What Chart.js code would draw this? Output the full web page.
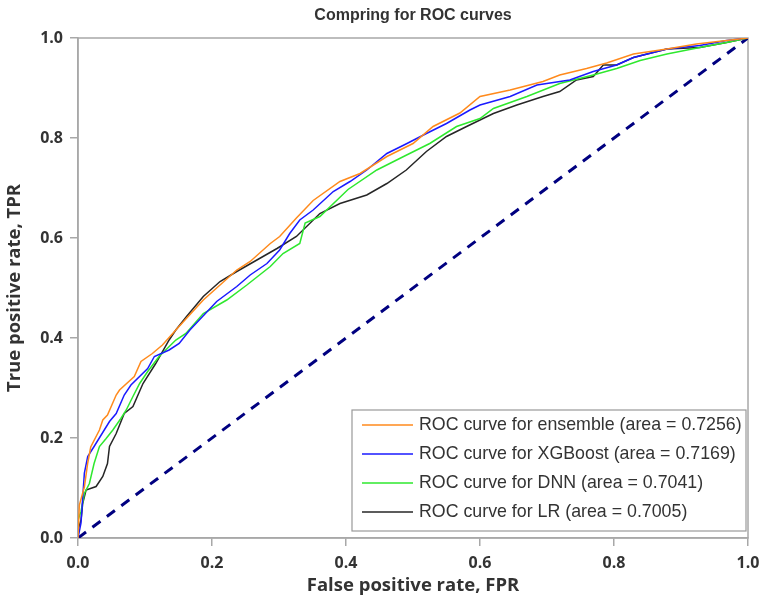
<!DOCTYPE html>
<html><head><meta charset="utf-8">
<script src="https://cdn.jsdelivr.net/npm/chart.js@4/dist/chart.umd.min.js"></script>
<style>html,body{margin:0;padding:0;background:#fff}#wrap{width:763px;height:600px}</style>
</head><body><div id="wrap"><canvas id="c" width="763" height="600"></canvas></div>
<script>
const chartTitle = 'Compring for ROC curves';
const xTitle = 'False positive rate, FPR';
const yTitle = 'True positive rate, TPR';
const seriesLabels = [
  'ROC curve for ensemble (area = 0.7256)',
  'ROC curve for XGBoost (area = 0.7169)',
  'ROC curve for DNN (area = 0.7041)',
  'ROC curve for LR (area = 0.7005)'
];
const ensembleFpr = [0, 0.002, 0.0095, 0.0145, 0.019, 0.032, 0.037, 0.044, 0.057, 0.062, 0.084, 0.094, 0.111, 0.126, 0.146, 0.187, 0.237, 0.257, 0.287, 0.301, 0.326, 0.351, 0.391, 0.421, 0.461, 0.500, 0.530, 0.570, 0.600, 0.645, 0.694, 0.719, 0.759, 0.789, 0.829, 0.879, 0.923, 0.968, 1];
const ensembleTpr = [0, 0.066, 0.102, 0.150, 0.182, 0.216, 0.236, 0.246, 0.286, 0.296, 0.323, 0.353, 0.369, 0.386, 0.416, 0.476, 0.536, 0.553, 0.589, 0.603, 0.640, 0.675, 0.713, 0.729, 0.763, 0.789, 0.823, 0.850, 0.883, 0.896, 0.913, 0.926, 0.939, 0.950, 0.968, 0.978, 0.988, 0.995, 1];
const xgbFpr = [0, 0.0045, 0.0095, 0.0145, 0.024, 0.047, 0.057, 0.069, 0.079, 0.104, 0.114, 0.136, 0.151, 0.167, 0.207, 0.237, 0.257, 0.282, 0.301, 0.316, 0.331, 0.351, 0.381, 0.406, 0.431, 0.461, 0.491, 0.520, 0.550, 0.585, 0.600, 0.645, 0.685, 0.734, 0.769, 0.804, 0.829, 0.879, 0.928, 0.968, 1];
const xgbTpr = [0, 0.030, 0.130, 0.163, 0.183, 0.233, 0.249, 0.286, 0.306, 0.339, 0.363, 0.376, 0.389, 0.416, 0.473, 0.503, 0.526, 0.549, 0.576, 0.609, 0.636, 0.656, 0.693, 0.713, 0.736, 0.769, 0.789, 0.809, 0.829, 0.856, 0.866, 0.883, 0.906, 0.916, 0.933, 0.946, 0.961, 0.978, 0.985, 0.995, 1];
const dnnFpr = [0, 0, 0.0045, 0.0095, 0.017, 0.024, 0.032, 0.042, 0.052, 0.064, 0.072, 0.082, 0.092, 0.104, 0.121, 0.146, 0.161, 0.187, 0.222, 0.252, 0.287, 0.306, 0.331, 0.339, 0.361, 0.403, 0.446, 0.486, 0.525, 0.565, 0.600, 0.620, 0.670, 0.719, 0.769, 0.804, 0.839, 0.879, 0.928, 0.968, 1];
const dnnTpr = [0, 0.036, 0.053, 0.089, 0.109, 0.149, 0.183, 0.199, 0.216, 0.239, 0.256, 0.283, 0.309, 0.333, 0.363, 0.396, 0.409, 0.449, 0.476, 0.506, 0.543, 0.569, 0.589, 0.630, 0.643, 0.697, 0.736, 0.763, 0.789, 0.823, 0.839, 0.859, 0.883, 0.909, 0.926, 0.939, 0.955, 0.968, 0.981, 0.991, 1];
const lrFpr = [0, 0, 0.0045, 0.007, 0.012, 0.027, 0.037, 0.044, 0.047, 0.057, 0.069, 0.082, 0.097, 0.116, 0.136, 0.146, 0.162, 0.187, 0.212, 0.237, 0.267, 0.297, 0.326, 0.361, 0.391, 0.431, 0.461, 0.490, 0.520, 0.550, 0.580, 0.600, 0.620, 0.655, 0.694, 0.719, 0.744, 0.769, 0.784, 0.804, 0.829, 0.879, 0.928, 0.968, 1];
const lrTpr = [0, 0.016, 0.036, 0.069, 0.096, 0.103, 0.123, 0.149, 0.183, 0.209, 0.249, 0.263, 0.309, 0.349, 0.396, 0.416, 0.443, 0.483, 0.513, 0.533, 0.556, 0.579, 0.603, 0.649, 0.669, 0.686, 0.709, 0.736, 0.773, 0.803, 0.823, 0.836, 0.849, 0.866, 0.883, 0.893, 0.916, 0.923, 0.946, 0.946, 0.961, 0.978, 0.981, 0.991, 1];
const chanceFpr = [0, 1];
const chanceTpr = [0, 1];
const tickValues = [0, 0.2, 0.4, 0.6, 0.8, 1.0];

const colors = ['#ff8a1c', '#1a1aff', '#2ee82e', '#262626'];
const pts = (xs, ys) => xs.map((x, i) => ({x: x, y: ys[i]}));

const legendBox = {
  id: 'legendBox',
  afterDraw(chart) {
    const ctx = chart.ctx, ca = chart.chartArea;
    const w = 394, h = 121;
    const left = ca.right - 2 - w, top = ca.bottom - 7 - h;
    ctx.save();
    ctx.fillStyle = '#fff';
    ctx.fillRect(left, top, w, h);
    ctx.strokeStyle = '#999';
    ctx.lineWidth = 1.2;
    ctx.strokeRect(left, top, w, h);
    ctx.font = '17.8px "Liberation Sans", Arial, sans-serif';
    ctx.textBaseline = 'middle';
    ctx.textAlign = 'left';
    for (let i = 0; i < 4; i++) {
      const ds = chart.data.datasets[i];
      const y = top + 15 + i * 29;
      ctx.strokeStyle = ds.borderColor;
      ctx.lineWidth = 1.6;
      ctx.beginPath();
      ctx.moveTo(left + 10, y);
      ctx.lineTo(left + 61, y);
      ctx.stroke();
      ctx.fillStyle = '#333';
      ctx.fillText(ds.label, left + 67, y);
    }
    ctx.restore();
  }
};
const frame = {
  id: 'frame',
  beforeDatasetsDraw(chart) {
    const ctx = chart.ctx, ca = chart.chartArea;
    ctx.save();
    ctx.strokeStyle = '#a8a8a8';
    ctx.lineWidth = 1.5;
    ctx.strokeRect(ca.left, ca.top, ca.right - ca.left, ca.bottom - ca.top);
    ctx.restore();
  }
};

const datasets = [
  {label: seriesLabels[0], data: pts(ensembleFpr, ensembleTpr), borderColor: colors[0]},
  {label: seriesLabels[1], data: pts(xgbFpr, xgbTpr), borderColor: colors[1]},
  {label: seriesLabels[2], data: pts(dnnFpr, dnnTpr), borderColor: colors[2]},
  {label: seriesLabels[3], data: pts(lrFpr, lrTpr), borderColor: colors[3]},
  {label: 'chance', data: pts(chanceFpr, chanceTpr), borderColor: '#000080', borderWidth: 3, borderDash: [10, 8]}
].map(d => Object.assign({showLine: true, pointRadius: 0, borderWidth: 1.5, tension: 0, fill: false}, d));

const tickFont = {family: '"Open Sans", sans-serif', size: 16, weight: 'bold'};
const titleFont = {family: '"Open Sans", sans-serif', size: 18.5, weight: 'bold'};
const noPad = s => { s.paddingLeft = 0; s.paddingRight = 0; s.paddingTop = 0; s.paddingBottom = 0; };

new Chart(document.getElementById('c'), {
  type: 'scatter',
  data: {datasets: datasets},
  plugins: [frame, legendBox],
  options: {
    responsive: false, animation: false, devicePixelRatio: 1,
    layout: {padding: {left: 0, right: 15, top: 0, bottom: 0}},
    plugins: {legend: {display: false}, tooltip: {enabled: false}, title: {display: false}},
    scales: {
      x: {
        type: 'linear', position: 'bottom', min: 0, max: 1,
        afterBuildTicks: s => { s.ticks = tickValues.map(v => ({value: v})); },
        afterFit: s => { s.height = 62; noPad(s); },
        ticks: {callback: v => v.toFixed(1), font: tickFont, color: '#333', padding: 8, maxRotation: 0},
        grid: {display: true, drawOnChartArea: false, drawTicks: true, tickLength: 8, color: '#a8a8a8', lineWidth: 1.5},
        border: {display: true, color: '#a8a8a8', width: 1.5},
        title: {display: true, text: xTitle, font: titleFont, color: '#333', padding: {top: 0, bottom: 3}}
      },
      y: {
        type: 'linear', position: 'left', min: 0, max: 1,
        afterBuildTicks: s => { s.ticks = tickValues.map(v => ({value: v})); },
        afterFit: s => { s.width = 78; noPad(s); },
        ticks: {callback: v => v.toFixed(1), font: tickFont, color: '#333', padding: 7},
        grid: {display: true, drawOnChartArea: false, drawTicks: true, tickLength: 8, color: '#a8a8a8', lineWidth: 1.5},
        border: {display: true, color: '#a8a8a8', width: 1.5},
        title: {display: true, text: yTitle, font: titleFont, color: '#333', padding: {top: 4, bottom: 0}}
      },
      xTop: {
        axis: 'x', type: 'linear', position: 'top', min: 0, max: 1,
        afterFit: s => { s.height = 38; noPad(s); },
        ticks: {display: false},
        grid: {display: false},
        border: {display: false},
        title: {display: true, text: chartTitle, font: {family: '"Liberation Sans", Arial, sans-serif', size: 16, weight: 'bold'}, color: '#333', padding: {top: 6, bottom: 0}}
      }
    }
  }
});
</script>
</body></html>
